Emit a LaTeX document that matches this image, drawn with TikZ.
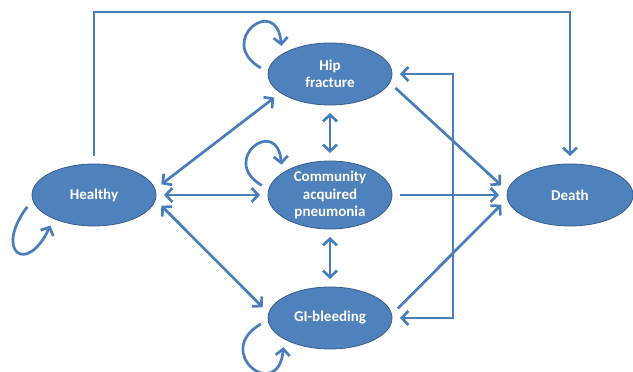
\documentclass[tikz,border=0pt]{standalone}
\usepackage{fontspec}
\setmainfont{Carlito}
\usetikzlibrary{arrows.meta,positioning,shapes.geometric}
\definecolor{boxfill}{RGB}{79,129,189}
\definecolor{boxline}{RGB}{56,93,138}
\definecolor{arrcol}{RGB}{74,126,187}
\tikzset{
  stnode/.style={ellipse, draw=boxline, fill=boxfill, line width=0.8pt, text=white, align=center,
    font=\fontsize{15}{17.5}\selectfont\bfseries, minimum width=124pt, minimum height=62pt, inner sep=0pt, outer sep=8pt},
  link/.style={draw=arrcol, line width=2.7pt, >={Straight Barb[length=6.5pt,width=14pt]}},
  loopy/.style={link, ->, looseness=4.5}
}

\begin{document}
\begin{tikzpicture}[x=1pt, y=1pt]
  \useasboundingbox (0,0) rectangle (633,372);

  \node[stnode] (h) at (94,177) {Healthy};
  \node[stnode] (hip) at (330,298) {Hip\\fracture};
  \node[stnode, minimum height=68pt] (cap) at (330,177) {Community\\acquired\\pneumonia};
  \node[stnode] (gi) at (330,54) {GI-bleeding};
  \node[stnode, minimum width=126pt] (d) at (570,177) {Death};

  \coordinate (top) at (330,360);
  \coordinate (brk) at (453,177);

  \draw[link, <->] (h.9) -- (hip.203);
  \draw[link, <->] (h.east) -- (cap.west);
  \draw[link, <->] (h.-9) -- (gi.171);
  \draw[link, <->] (hip.south) -- (cap.north);
  \draw[link, <->] (cap.south) -- (gi.north);

  \draw[link, ->] (hip.-12) -- (d.172);
  \draw[link, ->] (cap.east) -- (d.west);
  \draw[link, ->] (gi.8) -- (d.188);

  \draw[link, <->] (hip.east) -| (brk) |- (gi.east);
  \draw[link, ->] (h.north) |- (top) -| (d.north);

  \draw[loopy] (hip.175) to[out=150, in=95] (hip.150);
  \draw[loopy] (cap.172) to[out=150, in=95] (cap.148);
  \draw[loopy] (gi.185) to[out=210, in=265] (gi.212);
  \draw[loopy, looseness=4.8] (h.190) to[out=233, in=245] (h.215);

\end{tikzpicture}
\end{document}
